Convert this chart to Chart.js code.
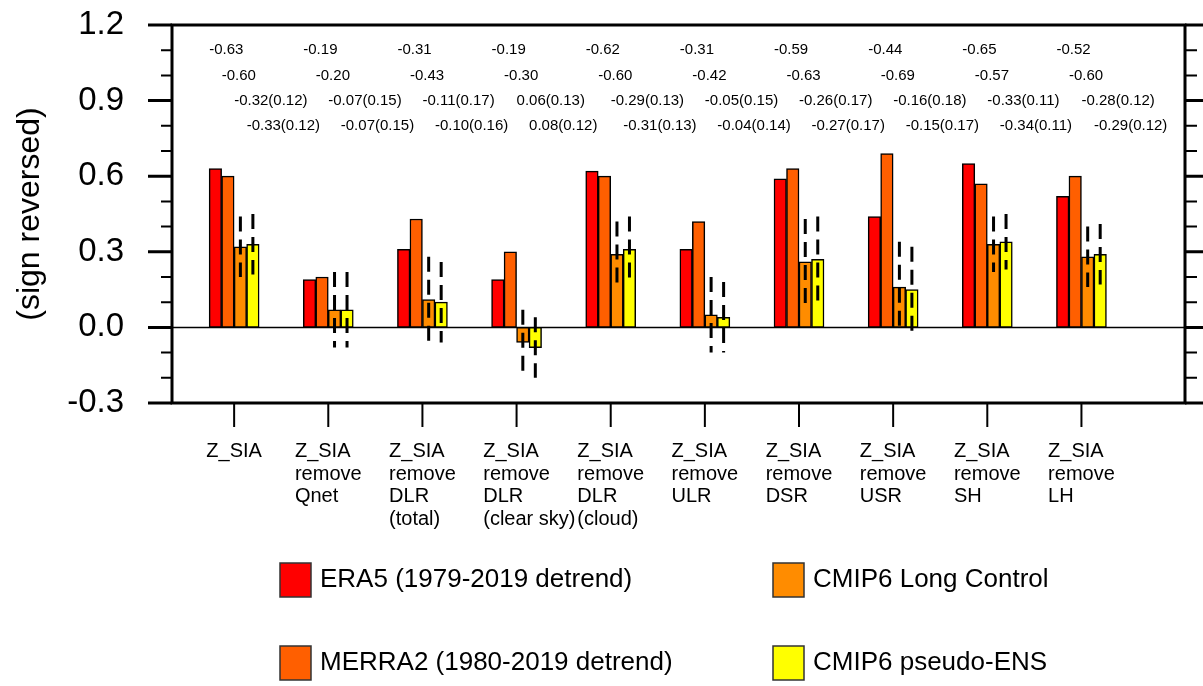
<!DOCTYPE html>
<html>
<head>
<meta charset="utf-8">
<script src="https://cdn.jsdelivr.net/npm/chart.js@4.4.1/dist/chart.umd.min.js"></script>
<style>
  html, body { margin: 0; padding: 0; background: #fff; }
  #wrap { width: 1203px; height: 686px; position: relative; }
</style>
</head>
<body>
<div id="wrap"><canvas id="chart"></canvas></div>
<script>
const FONT = '"Liberation Sans", Arial, Helvetica, sans-serif';

// x categories (multi-line labels)
const categories = [
  ['Z_SIA'],
  ['Z_SIA', 'remove', 'Qnet'],
  ['Z_SIA', 'remove', 'DLR', '(total)'],
  ['Z_SIA', 'remove', 'DLR', '(clear sky)'],
  ['Z_SIA', 'remove', 'DLR', '(cloud)'],
  ['Z_SIA', 'remove', 'ULR'],
  ['Z_SIA', 'remove', 'DSR'],
  ['Z_SIA', 'remove', 'USR'],
  ['Z_SIA', 'remove', 'SH'],
  ['Z_SIA', 'remove', 'LH']
];

const seriesNames = [
  'ERA5 (1979-2019 detrend)',
  'MERRA2 (1980-2019 detrend)',
  'CMIP6 Long Control',
  'CMIP6 pseudo-ENS'
];
const seriesColors = ['#ff0000', '#ff5f00', '#ff8c00', '#ffff00'];

// correlations as printed above the bars; bars show them with sign reversed
const era5 = [-0.63, -0.19, -0.31, -0.19, -0.62, -0.31, -0.59, -0.44, -0.65, -0.52];
const merra2 = [-0.60, -0.20, -0.43, -0.30, -0.60, -0.42, -0.63, -0.69, -0.57, -0.60];
const cmip6Control = [-0.32, -0.07, -0.11, 0.06, -0.29, -0.05, -0.26, -0.16, -0.33, -0.28];
const cmip6ControlSd = [0.12, 0.15, 0.17, 0.13, 0.13, 0.15, 0.17, 0.18, 0.11, 0.12];
const cmip6Ens = [-0.33, -0.07, -0.10, 0.08, -0.31, -0.04, -0.27, -0.15, -0.34, -0.29];
const cmip6EnsSd = [0.12, 0.15, 0.16, 0.12, 0.13, 0.14, 0.17, 0.17, 0.11, 0.12];

const yTicks = [-0.3, 0.0, 0.3, 0.6, 0.9, 1.2];

const seriesValues = [era5, merra2, cmip6Control, cmip6Ens];
const seriesSd = [null, null, cmip6ControlSd, cmip6EnsSd];

const datasets = seriesValues.map((vals, d) => ({
  label: seriesNames[d],
  data: vals.map((r, i) => ({ x: i + 1, y: -r })),
  backgroundColor: seriesColors[d],
  borderColor: '#000',
  borderWidth: 1.5,
  borderSkipped: false,
  barThickness: 12.5
}));

function fmt(v) { return v.toFixed(2); }

const figurePlugin = {
  id: 'figure',
  beforeDatasetsDraw(chart) {
    const { ctx, chartArea: a, scales: { y } } = chart;
    const y0 = y.getPixelForValue(0);
    ctx.save();
    ctx.strokeStyle = '#000';
    ctx.lineWidth = 1.5;
    ctx.beginPath();
    ctx.moveTo(a.left, y0);
    ctx.lineTo(a.right, y0);
    ctx.stroke();
    ctx.restore();
  },
  afterDatasetsDraw(chart) {
    // dashed +-1 sd lines on the CMIP6 bars
    const { ctx, scales: { y } } = chart;
    ctx.save();
    ctx.strokeStyle = '#000';
    ctx.lineWidth = 3;
    ctx.setLineDash([15, 8]);
    seriesSd.forEach((sd, d) => {
      if (!sd) return;
      const meta = chart.getDatasetMeta(d);
      meta.data.forEach((el, i) => {
        const v = -seriesValues[d][i];
        ctx.beginPath();
        ctx.moveTo(el.x, y.getPixelForValue(v + sd[i]));
        ctx.lineTo(el.x, y.getPixelForValue(v - sd[i]));
        ctx.stroke();
      });
    });
    ctx.restore();
  },
  afterDraw(chart) {
    const { ctx, chartArea: a, scales: { x, y } } = chart;
    ctx.save();
    ctx.strokeStyle = '#000';
    ctx.fillStyle = '#000';

    // frame
    ctx.lineWidth = 3;
    ctx.beginPath();
    ctx.rect(a.left, a.top, a.right - a.left, a.bottom - a.top);
    ctx.stroke();

    // y ticks, both sides
    for (let k = -3; k <= 12; k++) {
      const v = k / 10;
      const py = y.getPixelForValue(v);
      const major = k % 3 === 0;
      ctx.lineWidth = major ? 3 : 2;
      ctx.beginPath();
      ctx.moveTo(a.left - (major ? 24 : 11), py);
      ctx.lineTo(a.left, py);
      ctx.moveTo(a.right, py);
      ctx.lineTo(a.right + (major ? 18 : 12), py);
      ctx.stroke();
    }

    // x ticks and category labels
    ctx.lineWidth = 2;
    ctx.font = '20px ' + FONT;
    ctx.textAlign = 'left';
    ctx.textBaseline = 'alphabetic';
    categories.forEach((lines, i) => {
      const px = x.getPixelForValue(i + 1);
      ctx.beginPath();
      ctx.moveTo(px, a.bottom);
      ctx.lineTo(px, a.bottom + 24);
      ctx.stroke();
      const ref = lines.length > 1 ? lines[1] : lines[0];
      const left = px - ctx.measureText(ref).width / 2;
      lines.forEach((t, k) => ctx.fillText(t, left, a.bottom + 54 + k * 22.5));
    });

    // correlation values above each group
    const rows = [1.1, 1.0, 0.9, 0.8];
    ctx.font = '15px ' + FONT;
    ctx.textBaseline = 'middle';
    seriesValues.forEach((vals, d) => {
      const meta = chart.getDatasetMeta(d);
      const py = y.getPixelForValue(rows[d]);
      meta.data.forEach((el, i) => {
        let s = fmt(vals[i]);
        if (seriesSd[d]) s += '(' + fmt(seriesSd[d][i]) + ')';
        ctx.fillText(s, el.x - el.width / 2, py);
      });
    });

    // legend, two columns
    ctx.font = '26px ' + FONT;
    ctx.lineWidth = 1.5;
    seriesNames.forEach((name, d) => {
      const col = Math.floor(d / 2), row = d % 2;
      const bx = 280 + col * 493, by = 563 + row * 83;
      ctx.fillStyle = seriesColors[d];
      ctx.fillRect(bx, by, 31, 34);
      ctx.strokeStyle = '#333';
      ctx.strokeRect(bx, by, 31, 34);
      ctx.fillStyle = '#000';
      ctx.fillText(name, bx + 40, by + 17);
    });
    ctx.restore();
  }
};

new Chart(document.getElementById('chart'), {
  type: 'bar',
  data: { datasets },
  options: {
    responsive: true,
    maintainAspectRatio: false,
    animation: false,
    layout: { padding: { left: 0, top: 25, right: 18, bottom: 0 } },
    plugins: { legend: { display: false }, tooltip: { enabled: false } },
    scales: {
      x: {
        type: 'linear',
        min: 0.34,
        max: 11.1,
        offset: false,
        afterFit(s) { s.height = 283; },
        ticks: { display: false },
        grid: { display: false, drawTicks: false },
        border: { display: false }
      },
      y: {
        min: -0.3,
        max: 1.2,
        afterFit(s) { s.width = 172; },
        afterBuildTicks(s) { s.ticks = yTicks.map(v => ({ value: v })); },
        ticks: {
          padding: 0,
          color: '#000',
          font: { size: 33, family: FONT },
          callback: v => v.toFixed(1)
        },
        // ticks are drawn by the plugin; tickLength only offsets the labels
        grid: { display: false, drawTicks: true, tickLength: 48 },
        border: { display: false },
        title: {
          display: true,
          text: '(sign reversed)',
          color: '#000',
          font: { size: 32, family: FONT },
          padding: { top: 11, bottom: 0 }
        }
      }
    }
  },
  plugins: [figurePlugin]
});
</script>
</body>
</html>
